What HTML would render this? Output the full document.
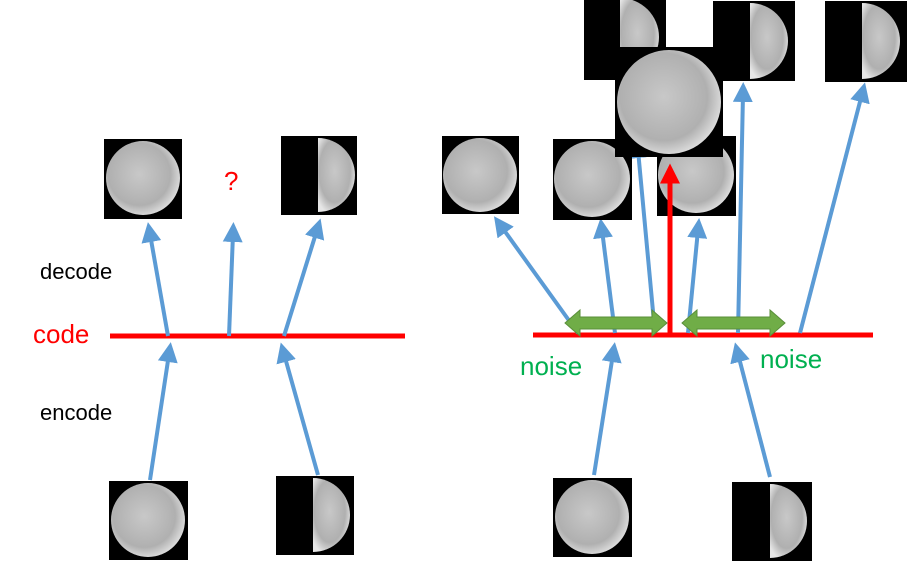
<!DOCTYPE html>
<html><head><meta charset="utf-8"><style>
html,body{margin:0;padding:0;background:#fff;width:907px;height:562px;overflow:hidden}
svg{display:block}
text{font-family:"Liberation Sans",sans-serif}
</style></head><body>
<svg width="907" height="562" viewBox="0 0 907 562">
<defs>
<radialGradient id="mg" cx="0.45" cy="0.45" r="0.6">
<stop offset="0" stop-color="#c8c8c8"/><stop offset="0.7" stop-color="#b0b0b0"/><stop offset="1" stop-color="#e6e6e6"/>
</radialGradient>
<marker id="ab" markerWidth="5" markerHeight="5" refX="2" refY="2.5" orient="auto" markerUnits="strokeWidth"><path d="M0,0 L5,2.5 L0,5 z" fill="#5b9bd5"/></marker>
<marker id="ar" markerWidth="4" markerHeight="4" refX="1.5" refY="2" orient="auto" markerUnits="strokeWidth"><path d="M0,0 L4,2 L0,4 z" fill="#ff0000"/></marker>
</defs>

<line x1="110" y1="336" x2="405" y2="336" stroke="#ff0000" stroke-width="5"/>
<text x="33" y="343" font-size="26" fill="#ff0000">code</text>
<text x="40" y="279" font-size="22" fill="#000">decode</text>
<text x="40" y="420" font-size="22" fill="#000">encode</text>
<text x="224" y="190" font-size="26" fill="#ff0000">?</text>

<g stroke="#5b9bd5" stroke-width="4" marker-end="url(#ab)" fill="none">
<line x1="168" y1="336" x2="150" y2="234"/>
<line x1="229" y1="336" x2="233" y2="234"/>
<line x1="284" y1="336" x2="317" y2="230"/>
<line x1="150" y1="480" x2="169" y2="354"/>
<line x1="318" y1="475" x2="284" y2="354"/>
</g>

<g><rect x="104" y="139" width="78" height="80" fill="#000"/><circle cx="143" cy="178" r="37" fill="url(#mg)"/></g>
<g><rect x="281" y="136" width="76" height="79" fill="#000"/><path d="M318,138 A37,37 0 0 1 318,212 z" fill="url(#mg)"/></g>
<g><rect x="109" y="481" width="79" height="79" fill="#000"/><circle cx="148" cy="520" r="37" fill="url(#mg)"/></g>
<g><rect x="276" y="476" width="78" height="79" fill="#000"/><path d="M313,478 A37,37 0 0 1 313,552 z" fill="url(#mg)"/></g>

<line x1="533" y1="335" x2="873" y2="335" stroke="#ff0000" stroke-width="5"/>
<g stroke="#5b9bd5" stroke-width="4" marker-end="url(#ab)" fill="none">
<line x1="578" y1="333" x2="501" y2="226"/>
<line x1="615" y1="333" x2="602" y2="230"/>
<line x1="655" y1="333" x2="638" y2="150"/>
<line x1="688" y1="333" x2="698" y2="230"/>
<line x1="738" y1="333" x2="743" y2="94"/>
<line x1="800" y1="333" x2="862" y2="94"/>
<line x1="594" y1="475" x2="613" y2="354"/>
<line x1="770" y1="477" x2="738" y2="354"/>
</g>

<g><rect x="584" y="0" width="82" height="80" fill="#000"/><path d="M620,-2 A39,39 0 0 1 620,76 z" fill="url(#mg)"/></g>
<g><rect x="713" y="1" width="82" height="80" fill="#000"/><path d="M750,3 A38,38 0 0 1 750,79 z" fill="url(#mg)"/></g>
<g><rect x="825" y="1" width="82" height="81" fill="#000"/><path d="M862,3 A38,38 0 0 1 862,79 z" fill="url(#mg)"/></g>
<g><rect x="442" y="136" width="77" height="78" fill="#000"/><circle cx="480" cy="175" r="37" fill="url(#mg)"/></g>
<g><rect x="553" y="139" width="79" height="81" fill="#000"/><circle cx="592" cy="179" r="38" fill="url(#mg)"/></g>
<g><rect x="657" y="136" width="79" height="80" fill="#000"/><circle cx="696" cy="175" r="38" fill="url(#mg)"/></g>
<g><rect x="615" y="47" width="108" height="110" fill="#000"/><circle cx="669" cy="102" r="52" fill="url(#mg)"/></g>

<line x1="670" y1="335" x2="670" y2="176" stroke="#ff0000" stroke-width="5" marker-end="url(#ar)"/>

<g fill="#70ad47"><path d="M565,323 L580,310 L580,317 L652,317 L652,310 L667,323 L652,336 L652,329 L580,329 L580,336 z" stroke="#5a8f3a" stroke-width="1"/></g>
<g fill="#70ad47"><path d="M682,323 L697,310 L697,317 L770,317 L770,310 L785,323 L770,336 L770,329 L697,329 L697,336 z" stroke="#5a8f3a" stroke-width="1"/></g>
<text x="520" y="375" font-size="26" fill="#00b050">noise</text>
<text x="760" y="368" font-size="26" fill="#00b050">noise</text>

<g><rect x="553" y="478" width="79" height="79" fill="#000"/><circle cx="592" cy="517" r="37" fill="url(#mg)"/></g>
<g><rect x="732" y="482" width="80" height="79" fill="#000"/><path d="M770,484 A37,37 0 0 1 770,558 z" fill="url(#mg)"/></g>
</svg>
</body></html>
